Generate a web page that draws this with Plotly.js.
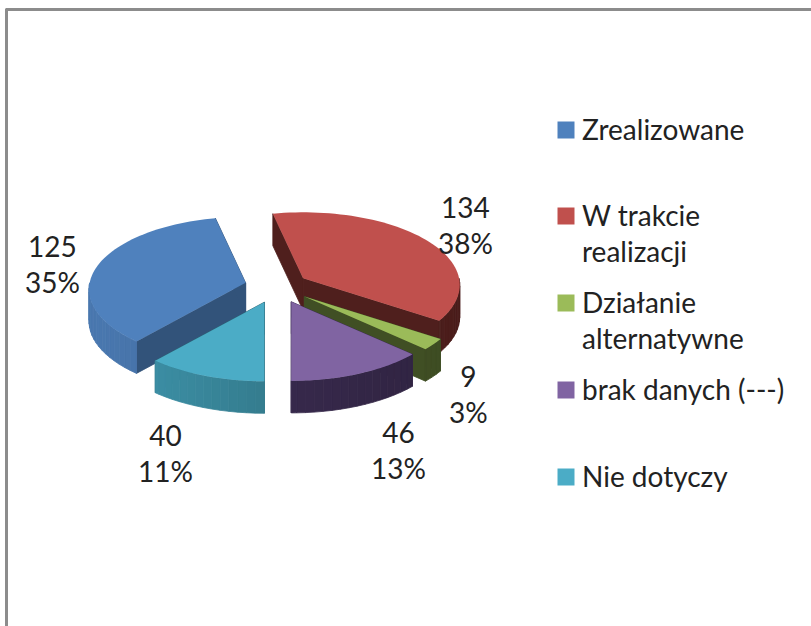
<!DOCTYPE html>
<html>
<head>
<meta charset="utf-8">
<script src="https://cdn.plot.ly/plotly-3.0.1.min.js"></script>
<style>html,body{margin:0;padding:0;background:#fff;overflow:hidden}#chart{width:811px;height:626px}</style>
</head>
<body>
<div id="chart"></div>
<script>
// ---- data ----
var categories = ['Zrealizowane', 'W trakcie', 'Działanie', 'brak danych (---)', 'Nie dotyczy'];
var categoryLines2 = ['', 'realizacji', 'alternatywne', '', ''];
var values = [125, 134, 9, 46, 40];
var topColors = ['#4f81bd', '#c0504d', '#9bbb59', '#8064a2', '#4bacc6'];
var cutColors = ['#32537a', '#4f1f1d', '#404f24', '#3a2b50', '#2c6675'];
var rimLight = ['#4a78b0', '#5a2523', '#4a5c2a', '#3e2e56', '#3f97ae'];
var rimDark = ['#3a628f', '#4a1d1b', '#3d4b22', '#2f2340', '#2a616f'];
var drawOrder = [1, 0, 2, 3, 4];

// ---- projection of the tilted pie ----
var firstAngle = 220.7, cx = 277, cy = 286.5, rx = 156, ry = 72, persp = 0.09, explode = 0.212, depth = 32;
// ---- label placement ----
var labelX = [52, 465, 468, 398, 165];
var labelY = [264, 225, 394, 450, 453];
var legendSwatchX = 566, legendTextX = 580;
var legendY = [130, 216, 303, 390, 477];
var fontName = 'Lato';
var fontSize = 28;
var textColor = '#222222';

var total = values.reduce(function (a, b) { return a + b; }, 0);
function proj(deg, r) {
  var t = deg * Math.PI / 180, u = Math.sin(t), v = Math.cos(t), s = 1 / (1 + persp * v);
  return [r * rx * u * s, -r * ry * v * s];
}
function hex(c) { return [1, 3, 5].map(function (i) { return parseInt(c.substr(i, 2), 16); }); }
function mix(a, b, t) {
  var A = hex(a), B = hex(b);
  return 'rgb(' + A.map(function (x, i) { return Math.round(x + (B[i] - x) * t); }).join(',') + ')';
}
function poly(xs, ys, color, name, seam) {
  return {
    type: 'scatter', x: xs.concat(xs[0]), y: ys.concat(ys[0]), fill: 'toself', fillcolor: color,
    mode: seam ? 'lines' : 'none', line: { color: color, width: seam ? 0.8 : 0 }, name: name,
    showlegend: false, hoverinfo: 'skip'
  };
}

var starts = [], a = firstAngle;
values.forEach(function (v) { starts.push(a); a += v / total * 360; });

var traces = [];
drawOrder.forEach(function (i) {
  var a0 = starts[i], a1 = a0 + values[i] / total * 360, mid = (a0 + a1) / 2;
  var off = proj(mid, explode), ax = cx + off[0], ay = cy + off[1];
  function rim(d) { var p = proj(d, 1); return [ax + p[0], ay + p[1]]; }
  var nm = categories[i];
  // cut faces
  [a0, a1].forEach(function (d) {
    var p = rim(d);
    traces.push(poly([ax, p[0], p[0], ax], [ay, p[1], p[1] + depth, ay + depth], cutColors[i], nm, true));
  });
  // outer wall, front half only, shaded piece by piece
  for (var turn = 0; turn <= 360; turn += 360) {
    var lo = Math.max(a0, 90 + turn), hi = Math.min(a1, 270 + turn);
    for (var d = lo; d < hi; d += 3) {
      var e = Math.min(d + 3, hi), p = rim(d), q = rim(e);
      var t = (Math.sin((d + e) / 2 * Math.PI / 180) + 1) / 2;
      traces.push(poly([p[0], q[0], q[0], p[0]], [p[1], q[1], q[1] + depth, p[1] + depth], mix(rimLight[i], rimDark[i], t), nm, true));
    }
  }
  // top face
  var xs = [ax], ys = [ay];
  for (var k = 0; k <= 60; k++) {
    var pt = rim(a0 + (a1 - a0) * k / 60);
    xs.push(pt[0]); ys.push(pt[1]);
  }
  traces.push(poly(xs, ys, topColors[i], nm, false));
});

// legend swatches
traces.push({
  type: 'scatter', mode: 'markers', x: legendY.map(function () { return legendSwatchX; }), y: legendY,
  marker: { symbol: 'square', size: 17, color: topColors, line: { width: 0 } },
  text: categories, showlegend: false, hoverinfo: 'skip'
});

var annotations = [];
values.forEach(function (v, i) {
  annotations.push({
    x: labelX[i], y: labelY[i], xref: 'x', yref: 'y', showarrow: false, xanchor: 'center', yanchor: 'middle',
    align: 'center', text: v + '<br>' + Math.round(v / total * 100) + '%',
    font: { family: fontName, size: fontSize, color: textColor }
  });
  annotations.push({
    x: legendTextX, y: legendY[i] - 20, xref: 'x', yref: 'y', showarrow: false, xanchor: 'left', yanchor: 'top',
    align: 'left', text: categories[i] + (categoryLines2[i] ? '<br>' + categoryLines2[i] : ''),
    font: { family: fontName, size: fontSize, color: textColor }
  });
});

var hiddenAxis = { visible: false, fixedrange: true, showgrid: false, zeroline: false };
var layout = {
  width: 811, height: 626, margin: { l: 0, r: 0, t: 0, b: 0 },
  paper_bgcolor: '#ffffff', plot_bgcolor: '#ffffff', showlegend: false,
  xaxis: Object.assign({ range: [0, 811] }, hiddenAxis),
  yaxis: Object.assign({ range: [626, 0] }, hiddenAxis),
  annotations: annotations,
  shapes: [
    { type: 'line', xref: 'x', yref: 'y', x0: 5.5, x1: 811, y0: 9.5, y1: 9.5, line: { color: '#8c8c8c', width: 3 } },
    { type: 'line', xref: 'x', yref: 'y', x0: 6.5, x1: 6.5, y0: 9, y1: 626, line: { color: '#8c8c8c', width: 3 } }
  ]
};
Plotly.newPlot('chart', traces, layout, { displayModeBar: false, staticPlot: true });
</script>
</body>
</html>
